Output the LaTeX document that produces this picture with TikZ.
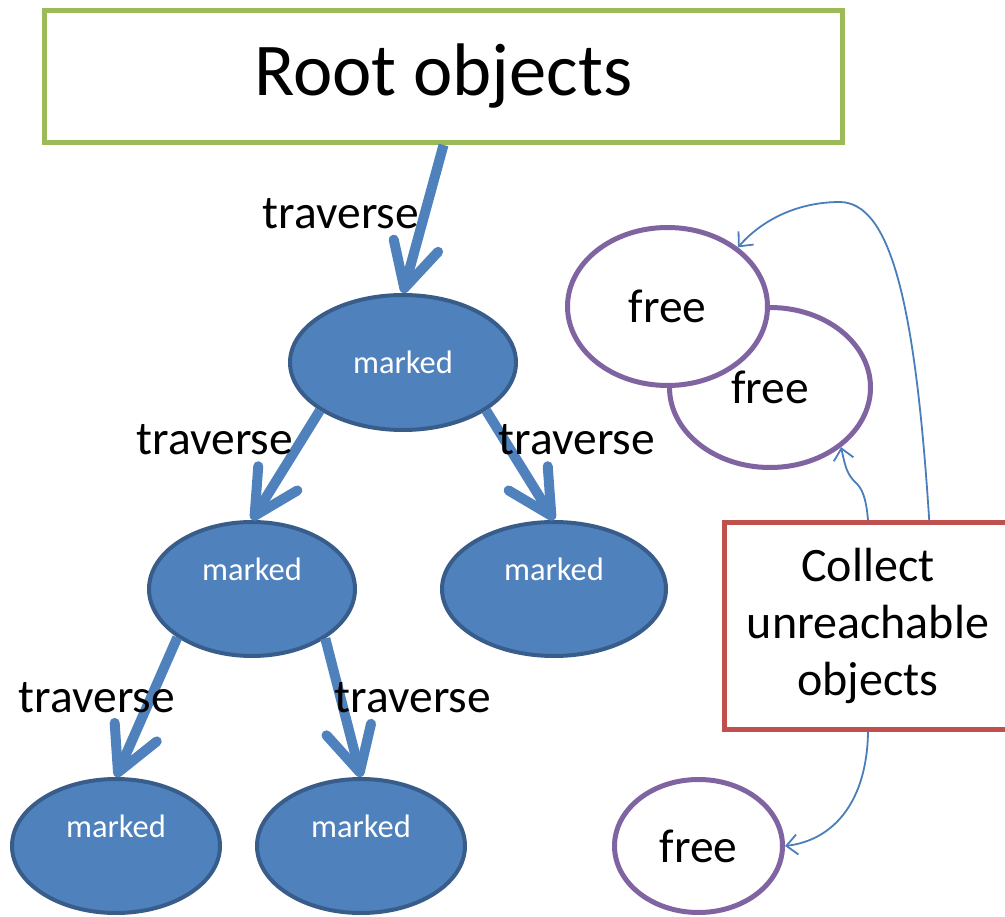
\documentclass[tikz,border=0pt]{standalone}
\usepackage{fontspec}
\setmainfont{Carlito}
\usepackage{tikz}
\usetikzlibrary{shapes.geometric, arrows.meta, positioning}

\definecolor{rootgreen}{HTML}{9BBB59}
\definecolor{markfill}{HTML}{4F81BD}
\definecolor{markedge}{HTML}{385D8A}
\definecolor{freeedge}{HTML}{8064A2}
\definecolor{collred}{HTML}{C0504D}
\definecolor{linkblue}{HTML}{4A7EBB}

\begin{document}
\begin{tikzpicture}[x=1pt, y=-1pt,
  markednode/.style={ellipse, draw=markedge, fill=markfill, line width=4pt, inner sep=0pt, minimum height=134pt, text=white, font=\fontsize{32.5}{39}\selectfont},
  markedlow/.style={text height=20pt, text depth=38pt},
  freenode/.style={ellipse, draw=freeedge, fill=white, line width=5pt, inner sep=0pt, font=\fontsize{47.5}{57}\selectfont},
  travlbl/.style={anchor=base, inner sep=0pt, font=\fontsize{47.5}{57}\selectfont},
  travarrow/.style={draw=markfill, line width=10pt, -{Straight Barb[length=44pt, width=46pt, line cap=round, line join=round]}},
  gcarrow/.style={draw=linkblue, line width=1.8pt, -{Straight Barb[length=11pt, width=20pt]}}]
\useasboundingbox (0,0) rectangle (1005,917);
\node[draw=rootgreen, line width=5pt, minimum width=798pt, minimum height=132pt, font=\fontsize{74.5}{89}\selectfont] (root) at (443.5,76.5) {Root objects};

% marked tree
\node[markednode, minimum width=226pt, minimum height=135pt] (m1) at (403,362.5) {marked};
\node[markednode, markedlow, minimum width=206pt] (m2) at (252,589) {marked};
\node[markednode, markedlow, minimum width=224pt] (m3) at (554,589) {marked};
\node[markednode, markedlow, minimum width=208pt] (m4) at (116,846) {marked};
\node[markednode, markedlow, minimum width=208pt] (m5) at (361,846) {marked};

\draw[travarrow] (root.south) -- (m1.north);
\draw[travarrow] (m1.210) -- (m2.north);
\draw[travarrow] (m1.330) -- (m3.north);
\draw[travarrow] (m2.213) -- (m4.north);
\draw[travarrow] (m2.326) -- (m5.north);

\node[travlbl] (t0) at (341,229) {traverse};
\node[travlbl] (t1) at (215,454) {traverse};
\node[travlbl] (t2) at (577,454) {traverse};
\node[travlbl] (t3) at (97,712) {traverse};
\node[travlbl] (t4) at (413,712) {traverse};

% free objects
\node[freenode, minimum width=201pt, minimum height=160pt] (f2) at (770,387.5) {free};
\node[freenode, minimum width=200pt, minimum height=158pt] (f1) at (667.5,306.5) {free};
\node[freenode, minimum width=168pt, minimum height=133pt] (f3) at (698.5,846) {free};

\node[draw=collred, fill=white, line width=5pt, minimum width=287pt, minimum height=207pt, align=center, font=\fontsize{48}{57}\selectfont] (collect) at (868,626) {Collect\\unreachable\\objects};

\draw[gcarrow] (collect.60) .. controls (915,300) and (890,203) .. (840,202) .. controls (795,202) and (760,222) .. (f1.40);
\draw[gcarrow] (collect.north) .. controls (866,497) and (862,488) .. (855,482) .. controls (847,474) and (845,466) .. (f2.-40);
\draw[gcarrow] (collect.south) .. controls (867,800) and (835,840) .. (f3.east);
\end{tikzpicture}
\end{document}
